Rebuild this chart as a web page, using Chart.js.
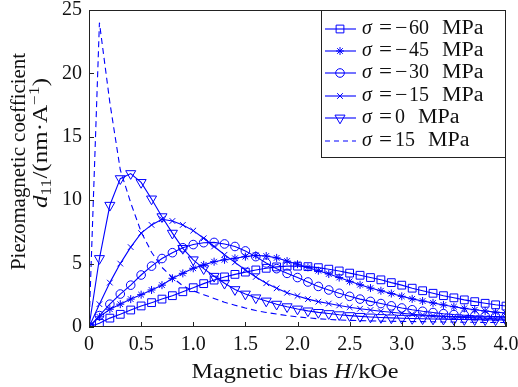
<!DOCTYPE html>
<html>
<head>
<meta charset="utf-8">
<script src="https://cdn.jsdelivr.net/npm/chart.js@4.4.0/dist/chart.umd.min.js"></script>
<style>
  html, body { margin: 0; padding: 0; background: #fff; }
</style>
</head>
<body>
<canvas id="grafico" width="518" height="387"></canvas>
<script>
// campo magnético (kOe)
const campo = [0, 0.1, 0.2, 0.3, 0.4, 0.5, 0.6, 0.7, 0.8, 0.9, 1.0,
  1.1, 1.2, 1.3, 1.4, 1.5, 1.6, 1.7, 1.8, 1.9, 2.0,
  2.1, 2.2, 2.3, 2.4, 2.5, 2.6, 2.7, 2.8, 2.9, 3.0,
  3.1, 3.2, 3.3, 3.4, 3.5, 3.6, 3.7, 3.8, 3.9, 4.0];

// d11 para cada tensão (nm/A)
const sigmaM60 = [0, 0.3, 0.7, 1.0, 1.34, 1.66, 1.92, 2.2, 2.47, 2.78, 3.1,
  3.42, 3.7, 3.95, 4.15, 4.33, 4.5, 4.63, 4.74, 4.8, 4.8,
  4.76, 4.68, 4.56, 4.42, 4.25, 4.08, 3.9, 3.72, 3.5, 3.3,
  3.06, 2.86, 2.66, 2.47, 2.3, 2.14, 2.0, 1.87, 1.75, 1.65];
const sigmaM45 = [0, 0.8, 1.4, 1.8, 2.2, 2.55, 2.92, 3.3, 3.84, 4.23, 4.63,
  4.9, 5.15, 5.3, 5.42, 5.55, 5.65, 5.6, 5.45, 5.2, 4.95,
  4.7, 4.44, 4.18, 3.9, 3.6, 3.33, 3.07, 2.86, 2.64, 2.42,
  2.22, 2.05, 1.9, 1.74, 1.6, 1.47, 1.36, 1.26, 1.17, 1.1];
const sigmaM30 = [0, 0.9, 1.8, 2.6, 3.3, 4.1, 4.8, 5.4, 5.86, 6.25, 6.5,
  6.65, 6.67, 6.55, 6.35, 6.0, 5.55, 5.05, 4.6, 4.23, 3.9,
  3.55, 3.2, 2.92, 2.66, 2.42, 2.2, 2.02, 1.85, 1.67, 1.5,
  1.36, 1.24, 1.14, 1.05, 0.98, 0.93, 0.88, 0.85, 0.82, 0.8];
const sigmaM15 = [0, 1.8, 3.5, 5.0, 6.3, 7.4, 8.05, 8.5, 8.36, 8.05, 7.6,
  7.0, 6.35, 5.7, 5.1, 4.5, 3.95, 3.45, 3.05, 2.7, 2.45,
  2.2, 2.0, 1.85, 1.7, 1.56, 1.44, 1.34, 1.24, 1.16, 1.08,
  1.01, 0.95, 0.9, 0.85, 0.8, 0.76, 0.72, 0.69, 0.65, 0.62];
const sigma0 = [0, 5.4, 9.6, 11.7, 12.1, 11.4, 10.1, 8.7, 7.4, 6.2, 5.3,
  4.6, 4.0, 3.45, 2.95, 2.6, 2.3, 2.05, 1.8, 1.6, 1.42,
  1.27, 1.15, 1.06, 0.97, 0.9, 0.84, 0.79, 0.75, 0.72, 0.69,
  0.67, 0.65, 0.63, 0.62, 0.6, 0.59, 0.58, 0.57, 0.56, 0.55];
const sigmaP15 = [0, 24, 17.7, 12.4, 9.8, 7.5, 5.9, 4.7, 3.9, 3.25, 2.85,
  2.55, 2.25, 1.95, 1.72, 1.5, 1.3, 1.15, 1.02, 0.9, 0.8,
  0.72, 0.65, 0.6, 0.55, 0.52, 0.5, 0.48, 0.46, 0.45, 0.44,
  0.43, 0.42, 0.41, 0.4, 0.39, 0.38, 0.37, 0.36, 0.355, 0.35];

const rotulosTensao = ['−60', '−45', '−30', '−15', '0', '15'];
const ticksX = [0, 0.5, 1.0, 1.5, 2.0, 2.5, 3.0, 3.5, 4.0];
const ticksY = [0, 5, 10, 15, 20, 25];

const AZUL = '#0000ff';
const FONTE = 'Liberation Serif';

const estilos = [
  { dados: sigmaM60, ponto: 'rect', raio: 5.5, rot: 0, tracejado: [] },
  { dados: sigmaM45, ponto: 'star', raio: 4, rot: 0, tracejado: [] },
  { dados: sigmaM30, ponto: 'circle', raio: 4.3, rot: 0, tracejado: [] },
  { dados: sigmaM15, ponto: 'crossRot', raio: 4, rot: 0, tracejado: [] },
  { dados: sigma0, ponto: 'triangle', raio: 5.8, rot: 180, tracejado: [] },
  { dados: sigmaP15, ponto: false, raio: 0, rot: 0, tracejado: [6, 4] }
];

const datasets = estilos.map((s, i) => ({
  label: 'σ = ' + rotulosTensao[i] + ' MPa',
  data: campo.map((h, k) => ({ x: h, y: s.dados[k] })),
  borderColor: AZUL,
  borderWidth: 1.1,
  borderDash: s.tracejado,
  pointStyle: s.ponto,
  pointRadius: s.raio,
  pointRotation: s.rot,
  pointBorderColor: AZUL,
  pointBackgroundColor: 'rgba(0,0,0,0)',
  pointBorderWidth: 1,
  tension: 0,
  fill: false
}));

// texto com partes em itálico / índices
function textoRico(ctx, partes, cx, base, largura) {
  let total = 0;
  partes.forEach(p => { ctx.font = p.f; p.w = ctx.measureText(p.t).width; total += p.w; });
  const sx = largura ? largura / total : 1;
  ctx.save();
  ctx.translate(cx, base);
  ctx.scale(sx, 1);
  let x = -total / 2;
  partes.forEach(p => {
    ctx.font = p.f;
    ctx.fillText(p.t, x, p.dy || 0);
    x += p.w;
  });
  ctx.restore();
}

// escreve texto esticado na horizontal (a partir da esquerda)
function textoLargo(ctx, t, x, y, fator) {
  ctx.save();
  ctx.translate(x, y);
  ctx.scale(fator, 1);
  ctx.fillText(t, 0, 0);
  ctx.restore();
}

const decoracao = {
  id: 'decoracao',
  afterDraw(chart) {
    const ctx = chart.ctx;
    const a = chart.chartArea;
    const sx = chart.scales.x, sy = chart.scales.y;
    ctx.save();

    // moldura
    ctx.strokeStyle = '#222';
    ctx.lineWidth = 1;
    ctx.strokeRect(Math.round(a.left) + 0.5, Math.round(a.top) + 0.5,
      Math.round(a.right - a.left) - 1, Math.round(a.bottom - a.top) - 1);

    // marcas para dentro
    ctx.beginPath();
    ticksX.forEach(v => {
      const px = Math.round(sx.getPixelForValue(v)) + 0.5;
      ctx.moveTo(px, a.bottom);
      ctx.lineTo(px, a.bottom - 5);
    });
    ticksY.forEach(v => {
      const py = Math.round(sy.getPixelForValue(v)) + 0.5;
      ctx.moveTo(a.left, py);
      ctx.lineTo(a.left + 5, py);
    });
    ctx.stroke();

    // legenda
    const lx = 321, ly = Math.round(a.top) + 0.5, lr = Math.round(a.right) - 0.5, lb = 157.5;
    ctx.fillStyle = '#fff';
    ctx.fillRect(lx, ly, lr - lx, lb - ly);
    ctx.strokeStyle = '#222';
    ctx.strokeRect(lx + 0.5, ly, lr - lx - 0.5, lb - ly);
    const linhas = [29, 51, 73, 96, 118, 141];
    estilos.forEach((s, i) => {
      const y = linhas[i];
      ctx.strokeStyle = AZUL;
      ctx.lineWidth = 1.1;
      ctx.setLineDash(s.tracejado.length ? [5, 4] : []);
      ctx.beginPath();
      ctx.moveTo(325, y);
      ctx.lineTo(356, y);
      ctx.stroke();
      ctx.setLineDash([]);
      if (s.ponto) {
        ctx.fillStyle = 'rgba(0,0,0,0)';
        ctx.lineWidth = 1;
        Chart.helpers.drawPoint(ctx, { pointStyle: s.ponto, rotation: s.rot, radius: s.raio, borderWidth: 1 }, 340, y);
      }
      ctx.fillStyle = '#111';
      ctx.textBaseline = 'middle';
      ctx.textAlign = 'left';
      ctx.font = 'italic 20px "' + FONTE + '"';
      ctx.fillText('σ', 362, y);
      ctx.font = '20px "' + FONTE + '"';
      textoLargo(ctx, '=', 379, y, 1.15);
      let x = 395;
      let num = rotulosTensao[i];
      if (num[0] === '−') {
        textoLargo(ctx, '−', x, y, 1.1);
        x += 14;
        num = num.slice(1);
      }
      ctx.fillText(num, x, y);
      x += ctx.measureText(num).width + 13;
      textoLargo(ctx, 'MPa', x, y, 1.1);
    });

    // títulos dos eixos
    ctx.fillStyle = '#111';
    ctx.textBaseline = 'alphabetic';
    ctx.textAlign = 'left';
    const reg = '20px "' + FONTE + '"';
    const ita = 'italic 20px "' + FONTE + '"';
    const peq = '14px "' + FONTE + '"';
    textoRico(ctx, [
      { t: 'Magnetic bias ', f: reg },
      { t: 'H', f: ita },
      { t: '/kOe', f: reg }
    ], 295, 378, 207);

    ctx.save();
    ctx.translate(25, 161.5);
    ctx.rotate(-Math.PI / 2);
    textoRico(ctx, [{ t: 'Piezomagnetic coefficient', f: reg }], 0, 0, 217);
    ctx.restore();

    ctx.save();
    ctx.translate(47, 143);
    ctx.rotate(-Math.PI / 2);
    textoRico(ctx, [
      { t: 'd', f: ita },
      { t: '11', f: peq, dy: 4 },
      { t: '/(nm·A', f: reg },
      { t: '−1', f: peq, dy: -8 },
      { t: ')', f: reg }
    ], 0, 0, 130);
    ctx.restore();

    ctx.restore();
  }
};

new Chart(document.getElementById('grafico'), {
  type: 'line',
  data: { datasets: datasets },
  options: {
    responsive: false,
    devicePixelRatio: 1,
    animation: false,
    layout: { padding: { top: 10, right: 12, left: 0, bottom: 0 } },
    plugins: {
      legend: { display: false },
      tooltip: { enabled: false }
    },
    scales: {
      x: {
        type: 'linear',
        min: 0,
        max: 4,
        afterBuildTicks: s => { s.ticks = ticksX.map(v => ({ value: v })); },
        afterFit: s => { s.height = 60; s.paddingLeft = 0; s.paddingRight = 0; },
        grid: { display: false, drawTicks: false },
        border: { display: false },
        ticks: {
          color: '#111',
          padding: 6,
          maxRotation: 0,
          font: { family: FONTE, size: 20 },
          callback: v => v === 0 ? '0' : v.toFixed(1)
        }
      },
      y: {
        min: 0,
        max: 25,
        afterBuildTicks: s => { s.ticks = ticksY.map(v => ({ value: v })); },
        afterFit: s => { s.width = 89; s.paddingTop = 0; s.paddingBottom = 0; },
        grid: { display: false, drawTicks: false },
        border: { display: false },
        ticks: {
          color: '#111',
          padding: 7,
          font: { family: FONTE, size: 20 },
          callback: v => String(v)
        }
      }
    }
  },
  plugins: [decoracao]
});
</script>
</body>
</html>
